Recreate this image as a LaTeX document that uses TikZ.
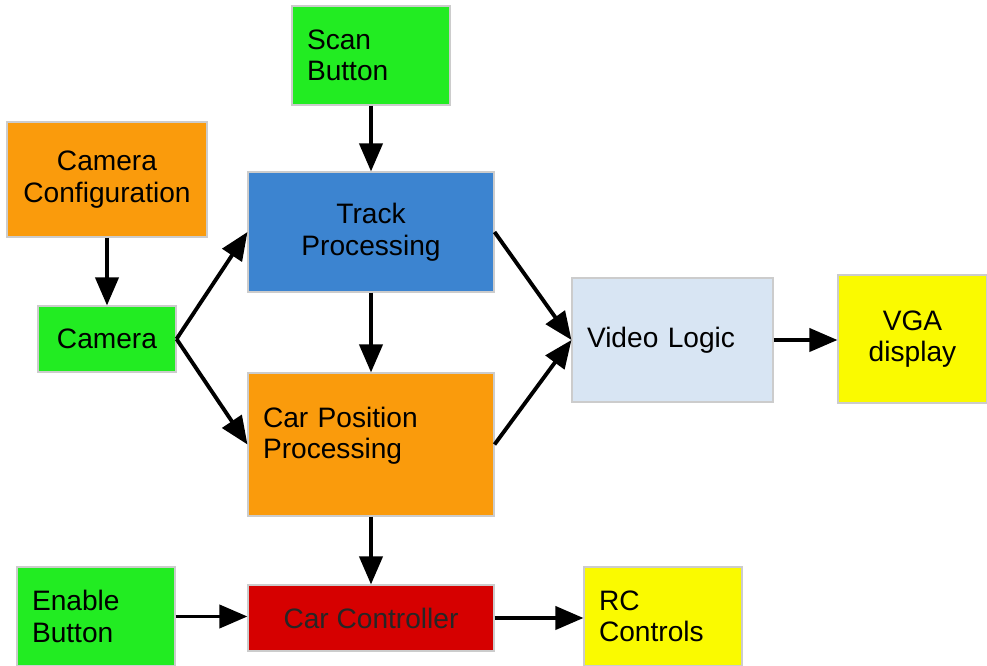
\documentclass[tikz,border=0pt]{standalone}
\usepackage{fontspec}
\setmainfont{Liberation Sans}
\usetikzlibrary{arrows.meta}

\definecolor{boxgreen}{RGB}{34,236,34}
\definecolor{boxorange}{RGB}{250,155,12}
\definecolor{boxblue}{RGB}{60,132,208}
\definecolor{boxpale}{RGB}{216,229,243}
\definecolor{boxyellow}{RGB}{250,250,0}
\definecolor{boxred}{RGB}{214,0,0}

\begin{document}
\begin{tikzpicture}[
    blk/.style={draw=black!20, line width=0.6pt, fill=#1, inner xsep=0.3cm,
      font=\fontsize{16}{18}\selectfont},
    lft/.style={align=left, text width=#1},
    mid/.style={align=center},
    arr/.style={line width=2.2pt, -{Triangle[length=0.56cm,width=0.46cm]}}
  ]
        \useasboundingbox (0,0) rectangle (19.74,-13.32);%page size

            \node[blk=boxgreen, lft=2.56cm, minimum height=1.98cm] (scan) at (7.42,-1.11) {Scan\\Button};
            \node[blk=boxorange, mid, minimum width=4cm, minimum height=2.3cm] (camcfg) at (2.14,-3.59) {Camera\\Configuration};
            \node[blk=boxblue, mid, minimum width=4.92cm, minimum height=2.4cm] (track) at (7.42,-4.64) {Track\\Processing};
            \node[blk=boxgreen, mid, minimum width=2.76cm, minimum height=1.32cm] (camera) at (2.14,-6.78) {Camera};
            \node[blk=boxpale, lft=3.42cm, minimum height=2.48cm] (video) at (13.45,-6.8) {Video Logic};
            \node[blk=boxyellow, mid, minimum width=2.98cm, minimum height=2.56cm] (vga) at (18.25,-6.78) {VGA\\display};
            \node[blk=boxorange, lft=4.32cm, minimum height=2.86cm, text depth=1.1cm] (carpos) at (7.42,-8.89) {Car Position\\Processing};%text sits high
            \node[blk=boxgreen, lft=2.56cm, minimum height=1.98cm] (enable) at (1.92,-12.33) {Enable\\Button};
            \node[blk=boxred, mid, minimum width=4.92cm, minimum height=1.32cm, text=black!85] (carctl) at (7.42,-12.36) {Car Controller};
            \node[blk=boxyellow, lft=2.56cm, minimum height=1.98cm] (rc) at (13.26,-12.33) {RC\\Controls};

            \foreach \a/\b in {scan/track, camcfg/camera, track/carpos, carpos/carctl}{
              \draw[arr] (\a.south) -- (\b.north);
            }

            \foreach \a/\b in {camera/track, camera/carpos, track/video, carpos/video}{
              \draw[arr] (\a.east) -- (\b.west);
            }

            % straight across
            \foreach \a/\b in {video/vga, enable/carctl, carctl/rc}{
              \draw[arr] (\a.east) -- (\a.east -| \b.west);
            }

        \end{tikzpicture}
\end{document}
